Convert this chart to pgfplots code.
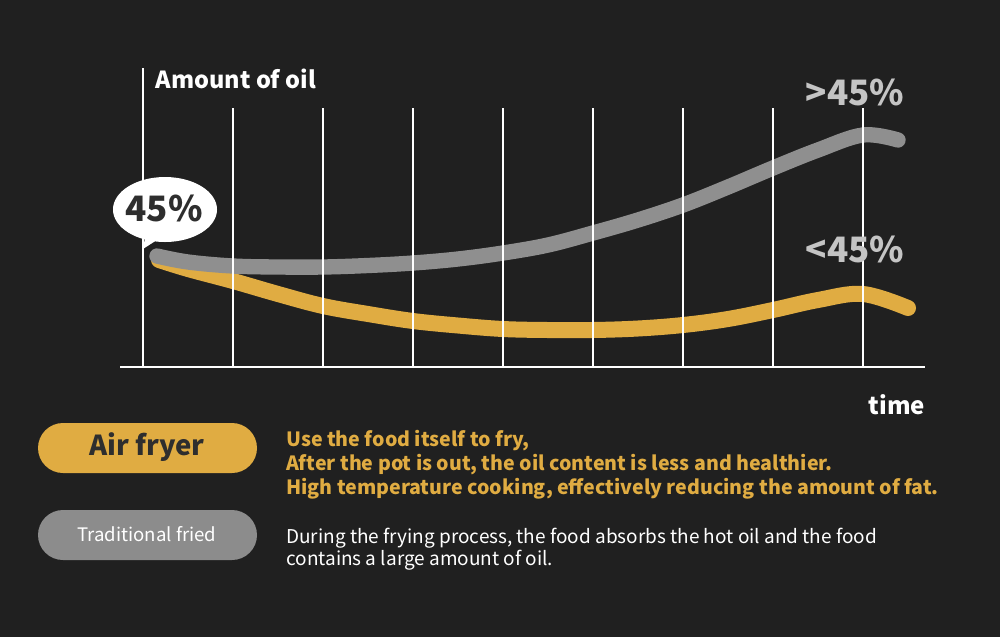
\documentclass[border=0pt]{standalone}
\usepackage{fontspec}
\setmainfont{Noto Sans CJK SC}
\usepackage{pgfplots}
\pgfplotsset{compat=1.18}
\definecolor{bg}{HTML}{202020}
\definecolor{curvegray}{HTML}{8F8F8F}
\definecolor{gold}{HTML}{E0AC42}
\definecolor{lblgray}{HTML}{C4C4C4}
\definecolor{pillgray}{HTML}{8C8C8C}
\definecolor{darktxt}{HTML}{2E2E2E}
\newcommand{\px}[1]{\fontsize{\fpeval{#1*0.75}pt}{\fpeval{#1*0.9}pt}\selectfont}
\begin{document}
\begin{tikzpicture}
\begin{scope}[x=0.75pt,y=-0.75pt]
\fill[bg] (0,0) rectangle (1000,637);
\end{scope}
\begin{axis}[
  at={(90pt,-275.25pt)}, anchor=south west,
  scale only axis, width=603.75pt, height=225pt,
  xmin=-23, xmax=782, ymin=0, ymax=300,
  hide axis, clip=false,
]
% Air fryer (gold)
\addplot[gold, line width=12pt, line cap=round, smooth, tension=0.6] coordinates {
 (16,107) (45,98) (90,86) (135,73) (180,61) (225,53) (270,46) (315,41.5) (360,38)
 (405,37) (450,37) (495,38.5) (540,42) (585,48) (630,57) (675,67) (720,73) (765,59)
};
% Traditional fried (gray)
\addplot[curvegray, line width=11.5pt, line cap=round, smooth, tension=0.6] coordinates {
 (14,111) (45,105) (90,101) (135,100) (180,100) (225,101.5) (270,104) (315,108)
 (360,114) (405,122) (450,134) (495,147) (540,162) (585,180) (630,199) (675,217)
 (720,232) (755,227)
};
% grid lines
\draw[white, line width=1pt] (axis cs:0,0) -- (axis cs:0,299);
\pgfplotsinvokeforeach{90,180,270,360,450,540,630,720}{
  \draw[white, line width=1pt] (axis cs:#1,0) -- (axis cs:#1,259);
}
\draw[white, line width=1.2pt] (rel axis cs:0,0) -- (rel axis cs:1,0);
\end{axis}
\begin{scope}[x=0.75pt,y=-0.75pt]
% bubble
\fill[white] (165,209.5) ellipse [x radius=52, y radius=32.5];
\fill[white] (146,232) -- (143,249) -- (160,238) -- cycle;
\node[text=darktxt, font=\px{35}\bfseries] at (164,208) {45\%};
\node[anchor=west, text=white, font=\px{23.5}\bfseries] at (151,79) {Amount of oil};
\node[text=lblgray, font=\px{35}\bfseries] at (855,92) {>45\%};
\node[text=lblgray, font=\px{35}\bfseries] at (855,249) {<45\%};
\node[text=white, font=\px{24}\bfseries] at (897,405) {time};
% pills
\fill[gold, rounded corners=18.75pt] (38,423) rectangle (257,473);
\node[text=darktxt, font=\px{27.5}\bfseries] at (147,447) {Air fryer};
\fill[pillgray, rounded corners=18.75pt] (38,510) rectangle (257,560);
\node[text=white, font=\px{18.6}] at (147,534) {Traditional fried};
% descriptions
\node[anchor=base west, inner sep=0, text=gold, font=\px{19.6}\bfseries] at (286,446) {Use the food itself to fry,};
\node[anchor=base west, inner sep=0, text=gold, font=\px{19.6}\bfseries] at (286,470) {After the pot is out, the oil content is less and healthier.};
\node[anchor=base west, inner sep=0, text=gold, font=\px{19.6}\bfseries] at (286,494) {High temperature cooking, effectively reducing the amount of fat.};
\node[anchor=base west, inner sep=0, text=white, font=\px{19}] at (286,543) {During the frying process, the food absorbs the hot oil and the food};
\node[anchor=base west, inner sep=0, text=white, font=\px{19}] at (286,565) {contains a large amount of oil.};
\end{scope}
\end{tikzpicture}
\end{document}
